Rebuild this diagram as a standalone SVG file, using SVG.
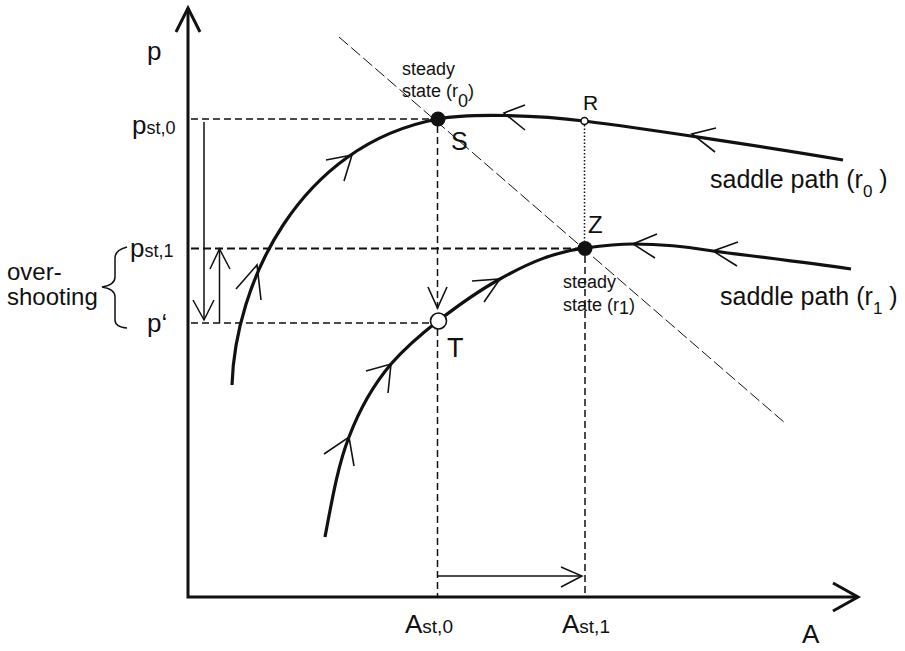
<svg xmlns="http://www.w3.org/2000/svg" width="905" height="651" viewBox="0 0 905 651">
<style>
text{font-family:"Liberation Sans",Arial,sans-serif;fill:#111}
.ax{fill:none;stroke:#111;stroke-width:3}
.cv{fill:none;stroke:#111;stroke-width:3.2}
.ah{fill:none;stroke:#111;stroke-width:1.6}
.th{fill:none;stroke:#111;stroke-width:1.5}
.ds{fill:none;stroke:#111;stroke-width:1.5;stroke-dasharray:7 4}
.ds2{fill:none;stroke:#111;stroke-width:2;stroke-dasharray:8 4}
.dg{fill:none;stroke:#111;stroke-width:1;stroke-dasharray:12 4}
.dt{fill:none;stroke:#111;stroke-width:1.5;stroke-dasharray:1.5 2}
</style>
<rect width="905" height="651" fill="#fff"/>
<g id="connectors">
  <line class="dg" x1="339" y1="37" x2="785" y2="423"/>
  <line class="ds" x1="191" y1="119" x2="431" y2="119"/>
  <line class="ds2" x1="191" y1="248.5" x2="578" y2="248.5"/>
  <line class="ds" x1="191" y1="323" x2="431" y2="323"/>
  <line class="ds" x1="437.5" y1="126" x2="437.5" y2="309"/>
  <line class="ds" x1="437.5" y1="329" x2="437.5" y2="596"/>
  <line class="ds" x1="585" y1="256" x2="585" y2="596"/>
  <line class="dt" x1="584.5" y1="125" x2="584.5" y2="241"/>
  <polyline class="ah" points="428,287 437.5,308 447,287"/>
  <line class="th" x1="204" y1="122" x2="204" y2="320"/>
  <polyline class="th" points="193,300 204,320 214,300"/>
  <line class="th" x1="219.5" y1="323" x2="219.5" y2="249"/>
  <polyline class="th" points="210,269 219.5,249 230,269"/>
  <line class="th" x1="438" y1="576" x2="582" y2="576"/>
  <polyline class="th" points="561,567 582,576 561,587"/>
  <polyline class="ax" points="188,8 188,597 858,597"/>
  <polyline class="ax" points="176,32 188,8 200,32"/>
  <polyline class="ax" points="833,583 858,597 833,611"/>
  <path class="th" d="M127,247 Q115,250 115,258 L115,277 Q115,285 102,287 Q115,289 115,297 L115,320 Q115,327 127,328"/>
</g>
<g id="saddle-path-r0">
  <path class="cv" d="M232,385 C235,285 298,145 438,119 C468,113 540,115 584,121 C640,128 760,146 843,160"/>
  <polyline class="ah" points="236,289 257,265 261,300"/>
  <polyline class="ah" points="326,160 352,155 344,181"/>
  <polyline class="ah" points="525,105 504,113 525,130"/>
  <polyline class="ah" points="716,128 692,134 715,152"/>
  <text x="710" y="188" font-size="25">saddle path (r<tspan font-size="17" dy="9">0</tspan><tspan dy="-9"> )</tspan></text>
</g>
<g id="saddle-path-r1">
  <path class="cv" d="M325,537 C332,500 338,465 349,437 C360,408 375,383 391,364 C405,348 420,335 438,321 C460,304 480,290 500,279 C530,262 555,252 585,248 C600,246 615,244 633,244 C660,244 690,247 713,251 C760,257 810,263 851,269"/>
  <polyline class="ah" points="324,454 349,437 354,466"/>
  <polyline class="ah" points="366,371 391,364 388,393"/>
  <polyline class="ah" points="472,281 500,279 484,302"/>
  <polyline class="ah" points="657,234 633,244 655,258"/>
  <polyline class="ah" points="738,242 713,251 737,266"/>
  <text x="720" y="305" font-size="25">saddle path (r<tspan font-size="17" dy="9">1</tspan><tspan dy="-9"> )</tspan></text>
</g>
<g id="node-S">
  <circle cx="438" cy="119" r="7.5" fill="#111"/>
  <text x="451" y="150" font-size="25">S</text>
  <text x="402" y="75" font-size="18">steady</text>
  <text x="402" y="97" font-size="18">state (r<tspan dy="10">0</tspan><tspan dy="-10">)</tspan></text>
</g>
<g id="node-R">
  <circle cx="584.5" cy="121" r="3.5" fill="#fff" stroke="#111" stroke-width="1.5"/>
  <text x="583" y="110" font-size="21">R</text>
</g>
<g id="node-Z">
  <circle cx="585" cy="248.5" r="7.5" fill="#111"/>
  <text x="588" y="233" font-size="24">Z</text>
  <text x="563" y="288" font-size="18">steady</text>
  <text x="563" y="311" font-size="18">state (r<tspan dy="3">1</tspan><tspan dy="-3">)</tspan></text>
</g>
<g id="node-T">
  <circle cx="438.5" cy="321" r="8" fill="#fff" stroke="#111" stroke-width="1.6"/>
  <text x="447" y="357" font-size="27">T</text>
</g>
<g id="labels">
  <text x="147" y="60" font-size="26">p</text>
  <text x="132" y="134"><tspan font-size="26">p</tspan><tspan font-size="18">st,0</tspan></text>
  <text x="130" y="257"><tspan font-size="26">p</tspan><tspan font-size="18">st,1</tspan></text>
  <text x="147" y="332" font-size="26">p‘</text>
  <text x="7" y="280" font-size="24">over-</text>
  <text x="7" y="305" font-size="24">shooting</text>
  <text x="405" y="633"><tspan font-size="26">A</tspan><tspan font-size="19">st,0</tspan></text>
  <text x="562" y="633"><tspan font-size="26">A</tspan><tspan font-size="19">st,1</tspan></text>
  <text x="802" y="643" font-size="26">A</text>
</g>
</svg>
